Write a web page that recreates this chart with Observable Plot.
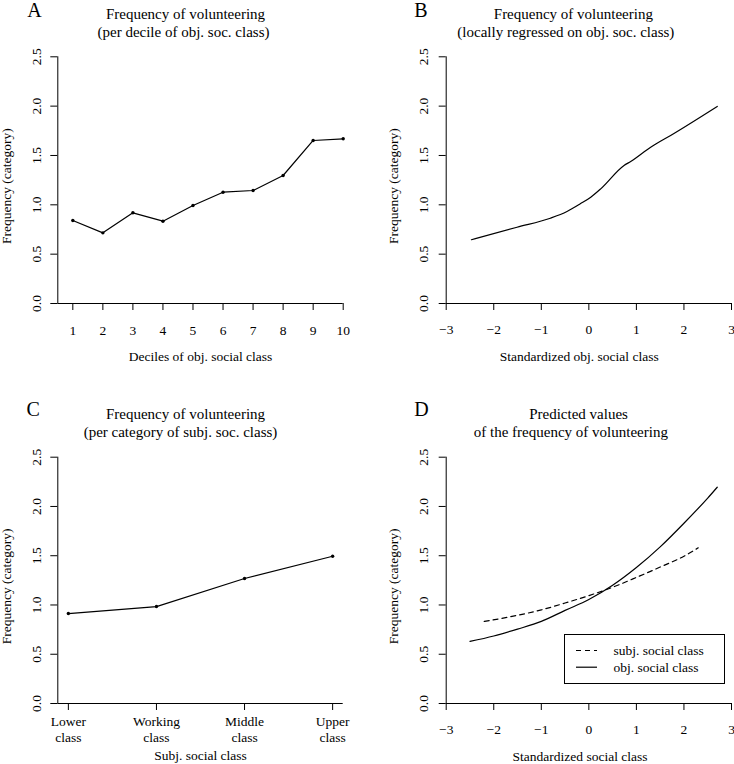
<!DOCTYPE html>
<html><head><meta charset="utf-8">
<script src="https://cdn.jsdelivr.net/npm/d3@7"></script>
<script src="https://cdn.jsdelivr.net/npm/@observablehq/plot@0.6"></script>
<style>
body{margin:0;background:#fff;}
#fig{position:relative;width:734px;height:764px;background:#fff;overflow:hidden;font-family:"Liberation Serif","Times New Roman",serif;}
.panel{position:absolute;width:367px;height:382px;}
.panel svg{overflow:visible;}
#legend{position:absolute;box-sizing:border-box;border:1px solid #000;background:#fff;}
</style></head>
<body><div id="fig"></div>
<script>
// ---------- data ----------
const deciles = [1, 2, 3, 4, 5, 6, 7, 8, 9, 10];
const volByDecile = [0.841, 0.716, 0.919, 0.834, 0.993, 1.128, 1.145, 1.297, 1.652, 1.669];

const objStdX = [-2.47, -1.51, -0.81, -0.46, -0.18, 0.04, 0.25, 0.74, 0.88, 1.30, 1.72, 2.70];
const loessVol = [0.646, 0.773, 0.864, 0.932, 1.010, 1.077, 1.162, 1.399, 1.439, 1.584, 1.703, 1.997];

const subjClasses = ["Lower class", "Working class", "Middle class", "Upper class"];
const volByClass = [0.913, 0.984, 1.269, 1.495];

const predObjX = [-2.5, -2, -1.5, -1, -0.5, 0, 0.5, 1, 1.5, 2, 2.5, 2.7];
const predObjY = [0.63, 0.685, 0.755, 0.833, 0.945, 1.055, 1.20, 1.38, 1.59, 1.83, 2.085, 2.195];
const predSubjX = [-2.2, -1.5, -1, -0.5, 0, 0.5, 1, 1.5, 2, 2.3];
const predSubjY = [0.833, 0.895, 0.95, 1.02, 1.095, 1.18, 1.28, 1.385, 1.495, 1.58];

const legendLabels = ["subj. social class", "obj. social class"];
const legendDash = ["5,4", null];

const yTicks = [0, 0.5, 1, 1.5, 2, 2.5];
const yDomain = [0, 2.5];
const decileTicks = [1, 2, 3, 4, 5, 6, 7, 8, 9, 10];
const stdTicks = [-3, -2, -1, 0, 1, 2, 3];
const classTicks = [1, 2, 3, 4];

const FONT = '"Liberation Serif", "Times New Roman", serif';
const fig = document.getElementById("fig");

function panel(c) {
  const marks = [
    Plot.ruleY([yDomain[0]], {stroke: "black"}),
    Plot.ruleX([c.xDomain[0]], {stroke: "black"}),
    Plot.axisX({ticks: c.xTicks, tickSize: 7, fill: "none", label: null}),
    Plot.axisY({ticks: yTicks, tickSize: 7, fill: "none", label: null}),
    Plot.text(c.xTicks, {x: d => d, text: c.xTickFormat, frameAnchor: "bottom", dy: c.xTickDy,
      lineAnchor: "bottom", lineHeight: 1.15, fontSize: 13.5, fill: "black"}),
    Plot.text(yTicks, {y: d => d, text: d => d.toFixed(1), frameAnchor: "left", dx: c.yTickDx,
      rotate: -90, textAnchor: "middle", lineAnchor: "bottom", fontSize: 13.5, fill: "black"}),
    Plot.text([c.yLabel], {text: d => d, frameAnchor: "left", dx: c.yLabelDx, dy: 6,
      rotate: -90, textAnchor: "middle", lineAnchor: "bottom", fontSize: 13.5, fill: "black"}),
    Plot.text([c.xLabel], {text: d => d, frameAnchor: "bottom", dx: c.xLabelDx, dy: c.xLabelDy,
      lineAnchor: "bottom", fontSize: 13.5, fill: "black"}),
    Plot.text([c.title[0]], {text: d => d, frameAnchor: "top", dx: c.titleDx[0], dy: -38,
      lineAnchor: "bottom", fontSize: 15, fill: "black"}),
    Plot.text([c.title[1]], {text: d => d, frameAnchor: "top", dx: c.titleDx[1], dy: -20,
      lineAnchor: "bottom", fontSize: 15, fill: "black"}),
    Plot.text([c.letter], {text: d => d, frameAnchor: "top-left", dx: c.letterDx, dy: c.letterDy,
      textAnchor: "start", lineAnchor: "bottom", fontSize: 20, fill: "black"}),
    ...c.marks
  ];
  const p = Plot.plot({
    width: 367, height: 382,
    marginLeft: c.m[0], marginRight: c.m[1], marginTop: c.m[2], marginBottom: c.m[3],
    x: {domain: c.xDomain},
    y: {domain: yDomain},
    style: {fontFamily: FONT, background: "transparent", color: "black", overflow: "visible"},
    marks
  });
  const div = document.createElement("div");
  div.className = "panel";
  div.style.left = c.left + "px";
  div.style.top = c.top + "px";
  div.appendChild(p);
  fig.appendChild(div);
}

const tableA = deciles.map((d, i) => ({x: d, y: volByDecile[i]}));
const tableB = objStdX.map((d, i) => ({x: d, y: loessVol[i]}));
const tableC = subjClasses.map((d, i) => ({x: classTicks[i], y: volByClass[i], cls: d}));
const tableDobj = predObjX.map((d, i) => ({x: d, y: predObjY[i]}));
const tableDsubj = predSubjX.map((d, i) => ({x: d, y: predSubjY[i]}));

// A
panel({
  left: 0, top: 0, m: [57.3, 24.3, 56.3, 79],
  xDomain: [0.5, 10], xTicks: decileTicks, xTickFormat: d => String(d), xTickDy: 31,
  yTickDx: -17.3, yLabelDx: -46.6, yLabel: "Frequency (category)",
  xLabel: "Deciles of obj. social class", xLabelDx: 0, xLabelDy: 57,
  title: ["Frequency of volunteering", "(per decile of obj. soc. class)"], titleDx: [-15, -17],
  letter: "A", letterDx: -30.6, letterDy: -39.6,
  marks: [
    Plot.line(tableA, {x: "x", y: "y", stroke: "black", strokeWidth: 1.2}),
    Plot.dot(tableA, {x: "x", y: "y", r: 1.7, fill: "black", stroke: null})
  ]
});

// B
panel({
  left: 367, top: 0, m: [78.7, 3, 56.3, 79],
  xDomain: [-3, 3], xTicks: stdTicks, xTickFormat: d => d3.format("d")(d).replace("-", "\u2212"), xTickDy: 30.5,
  yTickDx: -18.7, yLabelDx: -48, yLabel: "Frequency (category)",
  xLabel: "Standardized obj. social class", xLabelDx: -9.6, xLabelDy: 57.5,
  title: ["Frequency of volunteering", "(locally regressed on obj. soc. class)"], titleDx: [-15.5, -23],
  letter: "B", letterDx: -32, letterDy: -39.6,
  marks: [
    Plot.line(tableB, {x: "x", y: "y", stroke: "black", strokeWidth: 1.2, curve: "monotone-x"})
  ]
});

// C
panel({
  left: 0, top: 382, m: [57.3, 24.3, 74.7, 61],
  xDomain: [0.88, 4.12], xTicks: classTicks, xTickFormat: d => subjClasses[d - 1].replace(" ", "\n"), xTickDy: 38.5,
  yTickDx: -17.3, yLabelDx: -46.6, yLabel: "Frequency (category)",
  xLabel: "Subj. social class", xLabelDx: 0, xLabelDy: 56,
  title: ["Frequency of volunteering", "(per category of subj. soc. class)"], titleDx: [-15, -20],
  letter: "C", letterDx: -31.3, letterDy: -41.4,
  marks: [
    Plot.line(tableC, {x: "x", y: "y", stroke: "black", strokeWidth: 1.2}),
    Plot.dot(tableC, {x: "x", y: "y", r: 1.7, fill: "black", stroke: null})
  ]
});

// D
panel({
  left: 367, top: 382, m: [78.7, 3, 74.7, 61],
  xDomain: [-3, 3], xTicks: stdTicks, xTickFormat: d => d3.format("d")(d).replace("-", "\u2212"), xTickDy: 30,
  yTickDx: -18.7, yLabelDx: -48, yLabel: "Frequency (category)",
  xLabel: "Standardized social class", xLabelDx: -8.8, xLabelDy: 57.5,
  title: ["Predicted values", "of the frequency of volunteering"], titleDx: [-10.3, -18],
  letter: "D", letterDx: -32, letterDy: -41.4,
  marks: [
    Plot.line(tableDsubj, {x: "x", y: "y", stroke: "black", strokeWidth: 1.2, strokeDasharray: "5,4", curve: "monotone-x"}),
    Plot.line(tableDobj, {x: "x", y: "y", stroke: "black", strokeWidth: 1.2, curve: "monotone-x"})
  ]
});

// legend for D
const leg = document.createElement("div");
leg.id = "legend";
Object.assign(leg.style, {left: "564px", top: "634px", width: "161px", height: "50px"});
fig.appendChild(leg);
const lsvg = d3.select(leg).append("svg").attr("width", 159).attr("height", 48)
  .style("position", "absolute").style("left", "0px").style("top", "0px");
legendLabels.forEach((lab, i) => {
  const y = 15.5 + i * 16.7;
  lsvg.append("line").attr("x1", 11).attr("x2", 32).attr("y1", y).attr("y2", y)
    .attr("stroke", "black").attr("stroke-width", 1.2)
    .attr("stroke-dasharray", legendDash[i]);
  lsvg.append("text").attr("x", 48.5).attr("y", y).attr("dy", "0.32em")
    .attr("font-family", FONT).attr("font-size", 13.5).attr("fill", "black").text(lab);
});
</script>
</body></html>
